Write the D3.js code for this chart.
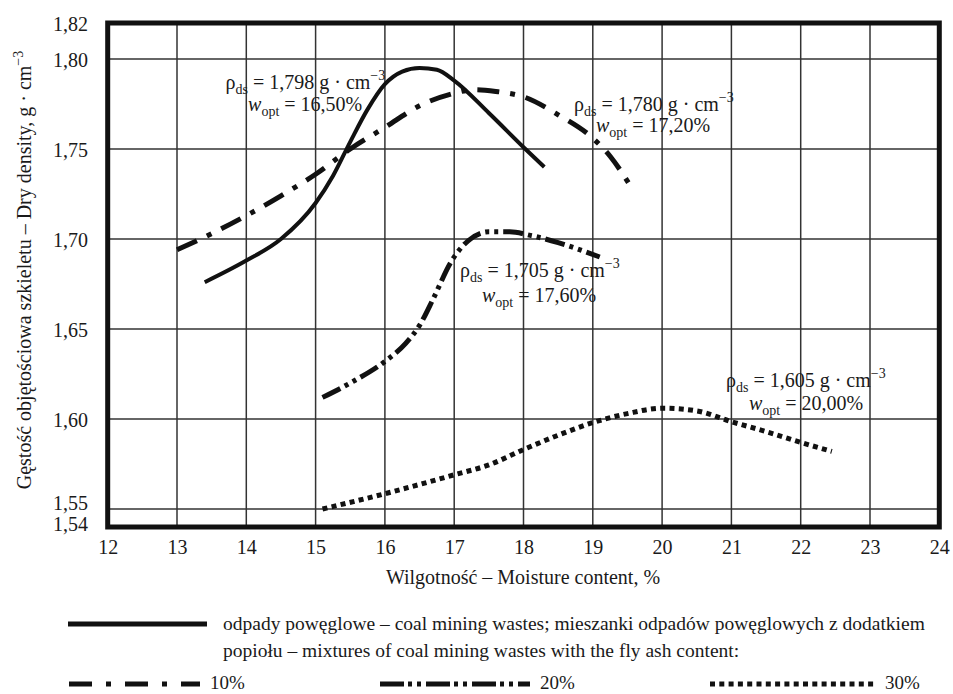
<!DOCTYPE html>
<html><head><meta charset="utf-8">
<script src="https://cdn.jsdelivr.net/npm/d3@7/dist/d3.min.js"></script>
<style>
body{margin:0;background:#fff}
svg text{font-family:"Liberation Serif","Tinos","Times New Roman","DejaVu Serif","Noto Serif",serif !important;fill:#1a1a1a}
</style>
</head><body>
<svg id="chart" width="953" height="694" font-family="Liberation Serif, DejaVu Serif, serif"></svg>
<script>
// ---------- data ----------
const xTicks = [12,13,14,15,16,17,18,19,20,21,22,23,24];
const yTicks = [1.54,1.55,1.60,1.65,1.70,1.75,1.80,1.82];
const yTickLabels = ["1,54","1,55","1,60","1,65","1,70","1,75","1,80","1,82"];

const moisture0 = [13.4,14.0,14.5,15.0,15.25,15.5,15.75,16.0,16.25,16.5,16.75,17.0,17.5,18.0,18.3];
const density0  = [1.676,1.688,1.700,1.720,1.735,1.754,1.772,1.786,1.793,1.795,1.794,1.788,1.770,1.751,1.740];

const moisture10 = [13.0,13.5,14.0,14.5,15.0,15.5,16.0,16.5,17.0,17.3,17.6,18.0,18.5,19.0,19.25,19.55];
const density10  = [1.694,1.703,1.713,1.724,1.736,1.750,1.762,1.774,1.781,1.783,1.782,1.779,1.769,1.756,1.746,1.729];

const moisture20 = [15.1,15.5,16.0,16.3,16.5,16.7,16.95,17.2,17.5,17.8,18.1,18.5,19.1];
const density20  = [1.612,1.620,1.632,1.642,1.652,1.667,1.687,1.699,1.704,1.704,1.702,1.698,1.690];

const moisture30 = [15.1,16.0,17.0,17.5,18.0,18.5,19.0,19.5,20.0,20.5,21.0,21.5,22.0,22.45];
const density30  = [1.550,1.5585,1.569,1.5745,1.583,1.591,1.598,1.603,1.606,1.6045,1.5985,1.593,1.587,1.582];

const annotDensity = ["1,798","1,780","1,705","1,605"];
const annotMoisture = ["16,50%","17,20%","17,60%","20,00%"];

const legendMain = ["odpady powęglowe – coal mining wastes; mieszanki odpadów powęglowych z dodatkiem",
                    "popiołu – mixtures of coal mining wastes with the fly ash content:"];
const legendPct = ["10%","20%","30%"];

// ---------- layout ----------
const FONT = '"Liberation Serif","Tinos","Times New Roman","DejaVu Serif",serif';
const svg = d3.select("#chart");
const x = d3.scaleLinear().domain([12,24]).range([107.7,939.3]);
const y = d3.scaleLinear().domain([1.54,1.82]).range([527,23]);

// grid
const grid = svg.append("g");
grid.selectAll("line.v").data(xTicks.slice(1,-1)).join("line")
  .attr("x1",d=>x(d)).attr("x2",d=>x(d)).attr("y1",y(1.82)).attr("y2",y(1.54))
  .attr("stroke","#333").attr("stroke-width",1.5);
grid.selectAll("line.h").data(yTicks.filter(d=>d>1.545&&d<1.815)).join("line")
  .attr("y1",d=>y(d)).attr("y2",d=>y(d)).attr("x1",x(12)).attr("x2",x(24))
  .attr("stroke","#333").attr("stroke-width",1.5);

// frame
svg.append("rect").attr("x",x(12)).attr("y",y(1.82))
  .attr("width",x(24)-x(12)).attr("height",y(1.54)-y(1.82))
  .attr("fill","none").attr("stroke","#111").attr("stroke-width",5);

// axes (tick labels via d3 axes)
const xAxis = d3.axisBottom(x).tickValues(xTicks).tickSize(0).tickPadding(0).tickFormat(d3.format("d"));
const gx = svg.append("g").attr("transform",`translate(0,${y(1.54)})`).call(xAxis);
gx.attr("font-family",FONT);
gx.select(".domain").remove();
gx.selectAll("text").attr("font-size",20).attr("dy",null).attr("y",27).attr("fill","#1a1a1a");

const yAxis = d3.axisLeft(y).tickValues(yTicks).tickSize(0).tickPadding(0)
  .tickFormat((d,i)=>yTickLabels[i]);
const gy = svg.append("g").attr("transform",`translate(88,0)`).call(yAxis);
gy.attr("font-family",FONT);
gy.select(".domain").remove();
gy.selectAll("text").attr("font-size",20).attr("dy",null).attr("fill","#1a1a1a")
  .attr("y",d=> d===1.55 ? 0.5 : (d===1.54 ? 3.5 : 7));

// axis titles
svg.append("text").attr("x",523).attr("y",584).attr("text-anchor","middle").attr("font-size",20)
  .attr("font-family",FONT).text("Wilgotność – Moisture content, %");
const yt = svg.append("text").attr("transform","translate(31,270) rotate(-90)")
  .attr("text-anchor","middle").attr("font-size",20).attr("font-family",FONT);
yt.append("tspan").text("Gęstość objętościowa szkieletu – Dry density, g · cm");
yt.append("tspan").attr("dy",-8).attr("font-size",14).text("−3");

// curves
const line = d3.line().x(d=>x(d[0])).y(d=>y(d[1])).curve(d3.curveMonotoneX);
const zip = (a,b)=>a.map((v,i)=>[v,b[i]]);
const series = [
  {pts: zip(moisture0,density0), dash:null, w:4},
  {pts: zip(moisture10,density10), dash:"22,11,5,11", w:5},
  {pts: zip(moisture20,density20), dash:"20,5,4,5,4,5", w:5},
  {pts: zip(moisture30,density30), dash:"5,4.3", w:5}
];
svg.append("g").selectAll("path").data(series).join("path")
  .attr("d",d=>line(d.pts)).attr("fill","none").attr("stroke","#111")
  .attr("stroke-width",d=>d.w).attr("stroke-dasharray",d=>d.dash);

// annotations
const annotPos = [
  {x1:13.70,y1:1.7833,x2:14.025,y2:1.7711},
  {x1:18.729,y1:1.7711,x2:19.046,y2:1.7594},
  {x1:17.084,y1:1.6789,x2:17.401,y2:1.665},
  {x1:20.922,y1:1.6178,x2:21.254,y2:1.605}
];
annotPos.forEach((p,i)=>{
  const t1 = svg.append("text").attr("x",x(p.x1)).attr("y",y(p.y1)).attr("font-size",20).attr("font-family",FONT);
  t1.append("tspan").text("ρ");
  t1.append("tspan").attr("dy",5).attr("font-size",14).text("ds");
  t1.append("tspan").attr("dy",-5).text(" = " + annotDensity[i] + " g · cm");
  t1.append("tspan").attr("dy",-9).attr("font-size",14).text("−3");
  const t2 = svg.append("text").attr("x",x(p.x2)).attr("y",y(p.y2)).attr("font-size",20).attr("font-family",FONT);
  t2.append("tspan").attr("font-style","italic").text("w");
  t2.append("tspan").attr("dy",5).attr("font-size",14).text("opt");
  t2.append("tspan").attr("dy",-5).text(" = " + annotMoisture[i]);
});

// legend
const lg = svg.append("g").attr("font-family",FONT);
lg.append("line").attr("x1",68).attr("x2",207).attr("y1",624).attr("y2",624)
  .attr("stroke","#111").attr("stroke-width",5);
lg.append("text").attr("x",223).attr("y",630).attr("font-size",19.5).text(legendMain[0]);
lg.append("text").attr("x",223).attr("y",657).attr("font-size",19.5).text(legendMain[1]);
const legItems = [
  {x1:69,x2:200,tx:210,dash:"23,14,5,14"},
  {x1:380,x2:530,tx:540,dash:"24,4,4,5,4,5"},
  {x1:710,x2:876,tx:885,dash:"5,4.3"}
];
legItems.forEach((d,i)=>{
  lg.append("line").attr("x1",d.x1).attr("x2",d.x2).attr("y1",684).attr("y2",684)
    .attr("stroke","#111").attr("stroke-width",5).attr("stroke-dasharray",d.dash);
  lg.append("text").attr("x",d.tx).attr("y",689).attr("font-size",19).text(legendPct[i]);
});
</script>
</body></html>
